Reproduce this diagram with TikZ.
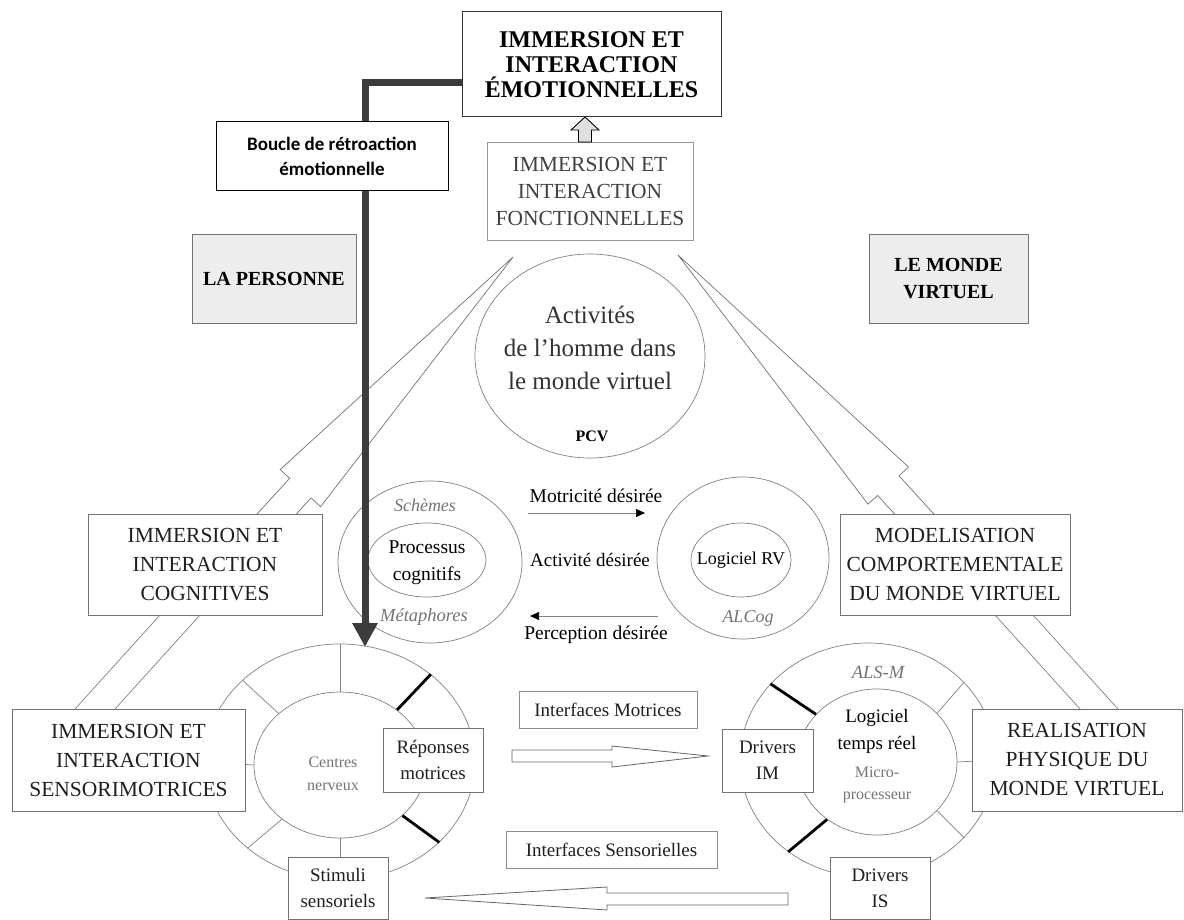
\documentclass[tikz,border=0pt]{standalone}
\usepackage{fontspec}
\setmainfont{Liberation Serif}
\newfontfamily\calibri{Carlito}
\usetikzlibrary{arrows.meta,shapes.geometric,calc}
\definecolor{fbgray}{HTML}{3C3C3C}
\definecolor{boxgray}{HTML}{EDEDED}
\begin{document}
\begin{tikzpicture}[x=1pt,y=-1pt,
  box/.style={draw=black!55, line width=0.8pt, fill=white, inner sep=0pt, align=center, text=black!88},
  bigtxt/.style={font=\fontsize{21.5}{29}\selectfont},
  smalltxt/.style={font=\fontsize{19}{26}\selectfont},
  greybox/.style={box, fill=boxgray, font=\fontsize{20}{27}\selectfont\bfseries, text=black},
  ell/.style={ellipse, draw=black!50, line width=0.7pt, inner sep=0pt},
  thinline/.style={draw=black!50, line width=0.7pt},
  thickspoke/.style={draw=black, line width=2.8pt},
  wedge/.style={draw=black!55, line width=0.7pt, fill=white},
  fb/.style={draw=fbgray, line width=7pt, -{Triangle[length=24pt,width=24pt]}},
  hollow/.style={draw=black!60, line width=0.8pt, fill=white},
  lbl/.style={inner sep=0pt, align=center},
  grey/.style={lbl, text=black!55},
]
\useasboundingbox (0,0) rectangle (1184,920);

% ---- wedge arrows from lower boxes to the functional box
\coordinate (tipL) at (513,257);
\coordinate (tipR) at (678,255);
\draw[wedge] (tipL) -- (280.2,469.5) -- (289.7,478.3) -- (242.2,530.2) -- (263.6,549.8) -- (311.1,497.9) -- (320.6,506.7) -- cycle;
\draw[wedge] (tipR) -- (908.6,467.1) -- (899.0,475.8) -- (948.6,530.2) -- (927.2,549.8) -- (877.6,495.4) -- (868.0,504.1) -- cycle;

% ---- ellipses
\node[ell, minimum width=230pt, minimum height=204pt] (pcv) at (590,356) {};
\node[ell, minimum width=184pt, minimum height=162pt] (schemes) at (430,562) {};
\node[ell, minimum width=118pt, minimum height=74pt] (proc) at (427,560) {};
\node[ell, minimum width=172pt, minimum height=162pt] (alcog) at (743,558) {};
\node[ell, minimum width=100pt, minimum height=74pt] (logrv) at (741,560) {};

% rings
\node[ell, minimum width=270pt, minimum height=236pt] (ringLo) at (340,762) {};
\node[ell, minimum width=172pt, minimum height=146pt] (ringLi) at (340,765) {};
\node[ell, minimum width=256pt, minimum height=234pt] (ringRo) at (868,760) {};
\node[ell, minimum width=160pt, minimum height=146pt] (ringRi) at (877,762) {};

% spokes left ring
\draw[thinline] (ringLi.90) -- (ringLo.90);
\draw[thinline] (ringLi.140) -- (ringLo.140);
\draw[thinline] (ringLi.180) -- (ringLo.180);
\draw[thinline] (ringLi.223) -- (ringLo.223);
\draw[thinline] (ringLi.270) -- (ringLo.270);
\draw[thickspoke] (ringLi.44) -- (ringLo.44);
\draw[thickspoke] (ringLi.-39) -- (ringLo.-39);
% spokes right ring
\draw[thickspoke] (ringRi.142) -- (ringRo.142);
\draw[thickspoke] (ringRi.229) -- (ringRo.229);
\draw[thinline] (ringRi.39) -- (ringRo.39);
\draw[thinline] (ringRi.-39) -- (ringRo.-39);
\draw[thinline] (ringRi.0) -- (ringRo.0);

% ---- boxes
\node[box, line width=1pt, draw=black!80, minimum width=259pt, minimum height=105pt,
      font=\fontsize{24}{25}\selectfont\bfseries, text=black] (emo) at (591.5,64.5)
      {IMMERSION ET\\INTERACTION\\ÉMOTIONNELLES};
\node[box, draw=black!40, minimum width=206pt, minimum height=98pt,
      font=\fontsize{21.5}{27}\selectfont, text=black!75] (fonct) at (590,191)
      {IMMERSION ET\\INTERACTION\\FONCTIONNELLES};

% feedback loop (thick)
\coordinate (fbstart) at (462,83);
\coordinate (fbend) at (365,647);
\draw[fb] (fbstart) -| (fbend);

\node[box, line width=1pt, draw=black, minimum width=232pt, minimum height=69pt,
      font=\calibri\fontsize{19}{25}\selectfont\bfseries, text=black] (boucle) at (332,156.5)
      {Boucle de rétroaction\\émotionnelle};

% block arrow fonct -> emo
\coordinate (upa) at (585,142);
\draw[draw=black, line width=0.9pt, fill=black!12] (upa) ++(-6.5,0) -- ++(0,-12) -- ++(-7.5,0)
   -- ++(14,-13) -- ++(14,13) -- ++(-7.5,0) -- ++(0,12) -- cycle;

\node[greybox, minimum width=164pt, minimum height=89pt] (pers) at (274,278.5) {LA PERSONNE};
\node[greybox, minimum width=159pt, minimum height=89pt] (monde) at (948.5,278.5) {LE MONDE\\VIRTUEL};

% parallel connectors
\node[box, bigtxt, minimum width=234pt, minimum height=101pt] (cog) at (205,564.5)
  {IMMERSION ET\\INTERACTION\\COGNITIVES};
\node[box, bigtxt, minimum width=230pt, minimum height=101pt] (modl) at (955,564.5)
  {MODELISATION\\COMPORTEMENTALE\\DU MONDE VIRTUEL};
\draw[thinline] (160,615) -- (75,709);
\draw[thinline] (200,615) -- (115,709);
\draw[thinline] (995,615) -- (1080,709);
\draw[thinline] (1033,615) -- (1118,709);
\node[box, bigtxt, minimum width=233pt, minimum height=102pt] (sens) at (128.5,760)
  {IMMERSION ET\\INTERACTION\\SENSORIMOTRICES};
\node[box, bigtxt, minimum width=210pt, minimum height=102pt] (real) at (1077,760)
  {REALISATION\\PHYSIQUE DU\\MONDE VIRTUEL};

% ring boxes
\node[box, smalltxt, minimum width=100pt, minimum height=64pt] (rep) at (433,760) {Réponses\\motrices};
\node[box, smalltxt, minimum width=100pt, minimum height=62pt] (stim) at (338,888) {Stimuli\\sensoriels};
\node[box, smalltxt, minimum width=91pt, minimum height=63pt] (drim) at (767.5,760.5) {Drivers\\IM};
\node[box, smalltxt, minimum width=100pt, minimum height=62pt] (dris) at (880,888) {Drivers\\IS};

% interfaces
\node[box, draw=black!45, smalltxt, minimum width=178pt, minimum height=37pt] (ifm) at (608,709.5) {Interfaces Motrices};
\node[box, draw=black!45, smalltxt, minimum width=211pt, minimum height=37pt] (ifs) at (611.5,849.5) {Interfaces Sensorielles};

\coordinate (hm) at (512,750);
\draw[hollow] (hm) -- (612,750) -- (612,746) -- (708,756) -- (612,767) -- (612,762) -- (512,762) -- cycle;
\coordinate (hs) at (788,893);
\draw[hollow] (hs) -- (607,893) -- (607,887) -- (425,898) -- (607,910) -- (607,905) -- (788,905) -- cycle;

% middle arrows
\coordinate (m1a) at (528,513); \coordinate (m1b) at (645,513);
\coordinate (m2a) at (658,616); \coordinate (m2b) at (530,616);
\draw[thinline, -{Triangle[length=9pt,width=8pt,color=black]}] (m1a) -- (m1b);
\draw[thinline, -{Triangle[length=9pt,width=8pt,color=black]}] (m2a) -- (m2b);

% ---- texts
\node[lbl, text=black!80, font=\fontsize{25}{33}\selectfont] (pcvt) at (590,348) {Activités\\de l’homme dans\\le monde virtuel};
\node[lbl, font=\fontsize{16}{18}\selectfont\bfseries] (pcvl) at (592,436) {PCV};
\node[grey, font=\fontsize{18}{20}\selectfont\itshape] (sch) at (425,505) {Schèmes};
\node[grey, font=\fontsize{18.5}{20}\selectfont\itshape] (met) at (424,617) {Métaphores};
\node[lbl, font=\fontsize{19.5}{27}\selectfont] (proct) at (427,563) {Processus\\cognitifs};
\node[lbl, font=\fontsize{18}{20}\selectfont] (logt) at (741,560) {Logiciel RV};
\node[grey, font=\fontsize{18}{20}\selectfont\itshape] (alc) at (748,618) {ALCog};
\node[lbl, font=\fontsize{19.5}{20}\selectfont] (mot) at (596,496) {Motricité désirée};
\node[lbl, font=\fontsize{19}{20}\selectfont] (act) at (590,560) {Activité désirée};
\node[lbl, font=\fontsize{19.5}{20}\selectfont] (per) at (596,635) {Perception désirée};
\node[grey, font=\fontsize{16}{23}\selectfont] (cen) at (333,774) {Centres\\nerveux};
\node[grey, font=\fontsize{18.5}{20}\selectfont\itshape] (als) at (878,672) {ALS-M};
\node[lbl, font=\fontsize{19}{27}\selectfont] (logtr) at (877,731) {Logiciel\\temps réel};
\node[grey, font=\fontsize{16}{22}\selectfont] (micro) at (877,785) {Micro-\\processeur};
\end{tikzpicture}
\end{document}
